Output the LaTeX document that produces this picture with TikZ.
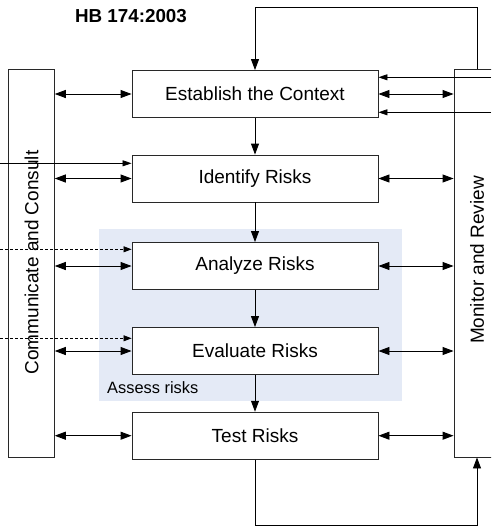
\documentclass[tikz,border=0pt]{standalone}
\usepackage{fontspec}
\setmainfont{Liberation Sans}
\usetikzlibrary{arrows.meta}
\definecolor{linegray}{RGB}{40,40,40}
\definecolor{assessblue}{RGB}{228,234,246}
\tikzset{
  every picture/.style={x=1pt,y=-1pt},
  stepbox/.style={draw=linegray, line width=0.9pt, fill=white,
    minimum width=246pt, minimum height=47pt, inner sep=0pt,
    font=\fontsize{19}{22}\selectfont},
  sidebox/.style={draw=linegray, line width=0.9pt, fill=white,
    minimum width=46pt, minimum height=388pt, inner sep=0pt},
  sidelabel/.style={rotate=90, font=\fontsize{19}{22}\selectfont, inner sep=0pt},
  flow/.style={line width=0.9pt, draw=black, -{Triangle[length=11pt,width=8pt]}},
  dbl/.style={line width=0.9pt, draw=black,
    {Triangle[length=11pt,width=8pt]}-{Triangle[length=11pt,width=8pt]}},
  inflow/.style={line width=0.8pt, draw=black, -{Triangle[length=9pt,width=6pt]}},
  dashflow/.style={line width=0.7pt, draw=black, dash pattern=on 3pt off 2pt,
    -{Triangle[length=8pt,width=6pt]}},
}
\begin{document}
\begin{tikzpicture}
\useasboundingbox (0,0) rectangle (491,528);
\clip (0,0) rectangle (491,528);

% shaded assessment region
\node[fill=assessblue, minimum width=302.4pt, minimum height=171.7pt, inner sep=0pt]
  (assess) at (250.5,314.85) {};
\node[anchor=west, inner sep=0pt, font=\fontsize{16.4}{19}\selectfont]
  (assesslbl) at (107,388) {Assess risks};

% title
\node[font=\fontsize{18.8}{22}\selectfont\bfseries, inner sep=0pt]
  (title) at (131,16.5) {HB 174:2003};

% side columns
\node[sidebox] (comm) at (31.3,263) {};
\node[sidelabel] (commlbl) at (31.5,262.5) {Communicate and Consult};
\node[sidebox] (mon) at (477,263) {};
\node[sidelabel] (monlbl) at (477,260) {Monitor and Review};

% process steps
\node[stepbox] (ctx) at (255,94) {Establish the Context};
\node[stepbox] (ident) at (255,178.5) {Identify Risks};
\node[stepbox] (analyze) at (255,266) {Analyze Risks};
\node[stepbox] (evaluate) at (255,351) {Evaluate Risks};
\node[stepbox] (test) at (255,435.7) {Test Risks};

% main flow
\draw[flow] (ctx) -- (ident);
\draw[flow] (ident) -- (analyze);
\draw[flow] (analyze) -- (evaluate);
\draw[flow] (evaluate) -- (test);

% links to communicate and consult
\foreach \s in {ctx,ident,analyze,evaluate,test}{
  \draw[dbl] (\s.west -| comm.east) -- (\s.west);
  \draw[dbl] (\s.east) -- (\s.east -| mon.west);
}

% inputs from the left
\coordinate (inI) at (0,163.3);
\coordinate (inA) at (0,249.3);
\coordinate (inE) at (0,338.3);
\draw[inflow] (inI) -- (inI -| ident.west);
\draw[dashflow] (inA) -- (inA -| analyze.west);
\draw[dashflow] (inE) -- (inE -| evaluate.west);

% inputs from the right into the context
\coordinate (inR1) at (491,77.3);
\coordinate (inR2) at (491,112.3);
\draw[inflow] (inR1) -- (inR1 -| ctx.east);
\draw[inflow] (inR2) -- (inR2 -| ctx.east);

% feedback loops
\coordinate (loopT) at (255,7.3);
\coordinate (loopB) at (255,525);
\draw[flow] (mon.north) |- (loopT) -- (ctx.north);
\draw[flow] (test.south) -- (loopB) -| (mon.south);
\end{tikzpicture}
\end{document}
